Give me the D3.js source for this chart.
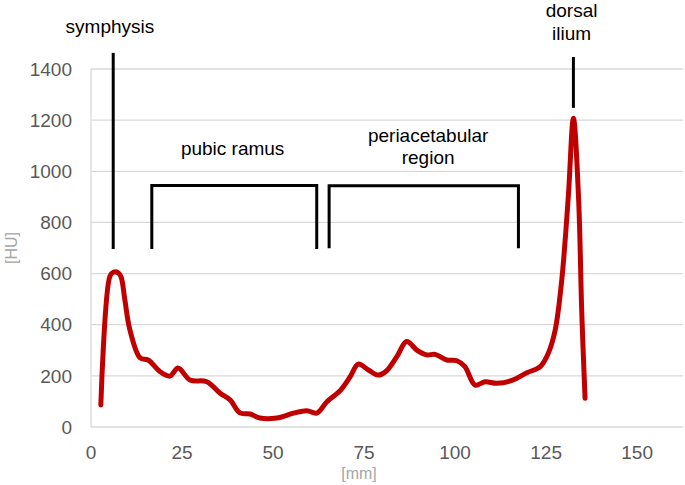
<!DOCTYPE html>
<html>
<head>
<meta charset="utf-8">
<script src="https://cdn.jsdelivr.net/npm/d3@7"></script>
<style>
  body { margin: 0; background: #fff; }
  text { font-family: "Liberation Sans", Arial, Helvetica, sans-serif; }
</style>
</head>
<body>
<script>
// profile data: position [mm] and density [HU]
let posMm = [2.7, 5.2, 6.1, 7.5, 8.3, 9.3, 10.7, 13.5, 15.7, 19.0, 21.7, 23.9, 27.2, 31.8, 35.4, 38.2,
  40.9, 43.7, 46.4, 51.0, 55.6, 59.3, 62.0, 64.8, 68.4, 71.2, 73.4, 76.2, 78.9, 81.2, 84.0, 86.7,
  89.5, 92.2, 94.5, 97.7, 100.5, 102.7, 105.5, 108.2, 111.5, 116.0, 119.7, 123.4, 125.6, 127.5,
  129.3, 131.1, 132.5, 133.9, 134.8, 135.7];
let huValues = [86, 590, 605, 603, 585, 497, 379, 270, 262, 216, 199, 231, 184, 177, 133, 106,
  55, 51, 35, 35, 54, 64, 54, 99, 142, 197, 246, 223, 203, 220, 275, 334,
  301, 282, 284, 262, 259, 236, 164, 177, 171, 184, 212, 236, 288, 379,
  575, 901, 1207, 901, 445, 112];

// ticks
let xTicks = [0, 25, 50, 75, 100, 125, 150];
let yTicks = [0, 200, 400, 600, 800, 1000, 1200, 1400];

// annotations (data units)
let markerLines = [
  {x: 6.1, y0: 696, y1: 1463},
  {x: 132.5, y0: 1248, y1: 1447}
];
let brackets = [
  {x0: 16.7, x1: 62.0, top: 944, bottom: 696},
  {x0: 65.4, x1: 117.4, top: 943, bottom: 699}
];
let labels = [
  {x: 5.2, y: 1541, lines: ['symphysis']},
  {x: 38.9, y: 1064, lines: ['pubic ramus']},
  {x: 92.6, y: 1116, lines: ['periacetabular', 'region']},
  {x: 132, y: 1603, lines: ['dorsal', 'ilium']}
];

let width = 685;
let height = 485;

let svg = d3.select('body')
  .append('svg')
  .attr('width', width)
  .attr('height', height);

let x = d3.scaleLinear().domain([0, 162.6]).range([91, 683]);
let y = d3.scaleLinear().domain([0, 1400]).range([427, 69]);

// gridlines
svg.selectAll('.grid')
  .data(yTicks)
  .enter()
  .append('line')
  .attr('x1', x(0))
  .attr('x2', x(162.6))
  .attr('y1', d => y(d))
  .attr('y2', d => y(d))
  .attr('stroke', '#d9d9d9')
  .attr('stroke-width', 1.3);

// vertical axis line
svg.append('line')
  .attr('x1', x(0)).attr('x2', x(0))
  .attr('y1', y(0)).attr('y2', y(1400))
  .attr('stroke', '#d9d9d9')
  .attr('stroke-width', 1.3);

// y tick labels
svg.selectAll('.ylab')
  .data(yTicks)
  .enter()
  .append('text')
  .attr('x', 72)
  .attr('y', d => y(d))
  .attr('dy', '0.35em')
  .attr('text-anchor', 'end')
  .attr('font-size', '19px')
  .attr('fill', '#595959')
  .text(d => d);

// x tick labels
svg.selectAll('.xlab')
  .data(xTicks)
  .enter()
  .append('text')
  .attr('x', d => x(d))
  .attr('y', 459)
  .attr('text-anchor', 'middle')
  .attr('font-size', '19px')
  .attr('fill', '#595959')
  .text(d => d);

// axis titles
svg.append('text')
  .attr('x', 359)
  .attr('y', 479)
  .attr('text-anchor', 'middle')
  .attr('font-size', '16px')
  .attr('fill', '#a6a6a6')
  .text('[mm]');

svg.append('text')
  .attr('transform', 'translate(17,248) rotate(-90)')
  .attr('text-anchor', 'middle')
  .attr('font-size', '16px')
  .attr('fill', '#a6a6a6')
  .text('[HU]');

// annotation lines
svg.selectAll('.marker')
  .data(markerLines)
  .enter()
  .append('line')
  .attr('x1', d => x(d.x)).attr('x2', d => x(d.x))
  .attr('y1', d => y(d.y0)).attr('y2', d => y(d.y1))
  .attr('stroke', '#000')
  .attr('stroke-width', 3);

svg.selectAll('.bracket')
  .data(brackets)
  .enter()
  .append('path')
  .attr('d', d => 'M' + x(d.x0) + ',' + y(d.bottom) + 'V' + y(d.top) + 'H' + x(d.x1) + 'V' + y(d.bottom))
  .attr('fill', 'none')
  .attr('stroke', '#000')
  .attr('stroke-width', 3);

let lab = svg.selectAll('.lab')
  .data(labels)
  .enter()
  .append('text')
  .attr('text-anchor', 'middle')
  .attr('font-size', '19px')
  .attr('fill', '#000');

lab.selectAll('tspan')
  .data(d => d.lines.map((t, i) => ({t: t, i: i, d: d})))
  .enter()
  .append('tspan')
  .attr('x', d => x(d.d.x))
  .attr('y', d => y(d.d.y) + d.i * 22.5)
  .text(d => d.t);

// profile line
let line = d3.line()
  .x((d, i) => x(posMm[i]))
  .y(d => y(d))
  .curve(d3.curveCatmullRom.alpha(0.5));

svg.append('path')
  .datum(huValues)
  .attr('d', line)
  .attr('fill', 'none')
  .attr('stroke', '#c00000')
  .attr('stroke-width', 5)
  .attr('stroke-linecap', 'round')
  .attr('stroke-linejoin', 'round');
</script>
</body>
</html>
